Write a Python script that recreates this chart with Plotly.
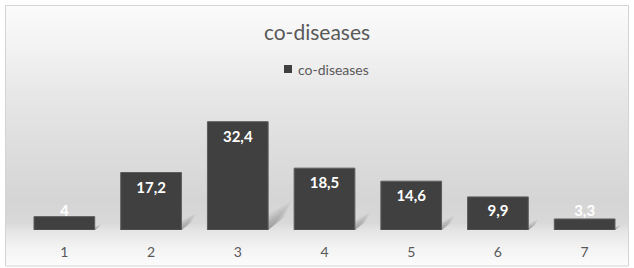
import plotly.graph_objects as go

categories = ["1", "2", "3", "4", "5", "6", "7"]
values = [4, 17.2, 32.4, 18.5, 14.6, 9.9, 3.3]
value_labels = ["4", "17,2", "32,4", "18,5", "14,6", "9,9", "3,3"]
series_name = "co-diseases"
title_text = "co-diseases"

W, H = 634, 268
L, R, T, B = 21, 6, 113, 38
PW, PH = W - L - R, H - T - B
YMAX = 35.0
FONT = "Lato"
BAR_COLOR = "#404040"
TEXT_COLOR = "#595959"

def px_x(px):
    return (px - L) / PW

def px_y(py):
    return (H - B - py) / PH

shapes = []
# background gradient (vertical) inside the chart frame
stops = [(6, 251), (50, 242), (95, 231), (150, 221), (200, 213), (222, 216),
         (232, 230), (248, 243), (266, 252)]

def gray_at(py):
    for (a, ga), (b, gb) in zip(stops, stops[1:]):
        if a <= py <= b:
            t = (py - a) / (b - a)
            return ga + (gb - ga) * t
    return stops[-1][1]

py = 6
while py < 266:
    g = int(round(gray_at(py + 1)))
    shapes.append(dict(type="rect", xref="paper", yref="paper", layer="below",
                       x0=px_x(6), x1=px_x(628), y0=px_y(py + 2), y1=px_y(py),
                       fillcolor=f"rgb({g},{g},{g})", line=dict(width=0)))
    py += 2

# frame
shapes.append(dict(type="rect", xref="paper", yref="paper", layer="below",
                   x0=px_x(5.5), x1=px_x(628.5), y0=px_y(266), y1=px_y(5.5),
                   fillcolor="rgba(0,0,0,0)", line=dict(color="#d4d4d4", width=1)))

# soft drop shadows to the lower right of each bar (derived from values)
bar_half = 0.35
ux = PW / 7.0
uy = PH / YMAX
for i, v in enumerate(values):
    xr = i + bar_half
    dx = (4 + 0.6 * v) / ux
    dy = (3 + 0.8 * v) / uy
    n = 10
    for k in range(n):
        s = 1 - k / (n + 1)
        shapes.append(dict(type="path", xref="x", yref="y", layer="below",
                           path=(f"M {xr},{0} L {xr + dx*s*0.7},{dy*s*0.45} "
                                 f"L {xr + dx*s},{dy*s} L {xr},{dy*0.55*s} Z"),
                           fillcolor="rgba(80,80,80,0.045)", line=dict(width=0)))

# custom legend (small square + text)
shapes.append(dict(type="rect", xref="paper", yref="paper",
                   x0=px_x(284), x1=px_x(292), y0=px_y(73), y1=px_y(65),
                   fillcolor=BAR_COLOR, line=dict(width=0)))

fig = go.Figure()
fig.add_trace(go.Bar(
    x=list(range(len(categories))), y=values, name=series_name,
    marker=dict(color=BAR_COLOR, line=dict(color="#5c5c5c", width=1)),
    width=0.7, showlegend=False, hoverinfo="skip",
))

label_y = [max(v - 4.9, 5.2) for v in values]
fig.add_trace(go.Scatter(
    x=list(range(len(categories))), y=label_y, mode="text", text=value_labels,
    textfont=dict(family=FONT, size=15, color="white", weight="bold"),
    textposition="middle center", showlegend=False, hoverinfo="skip",
))

fig.update_layout(
    width=W, height=H,
    margin=dict(l=L, r=R, t=T, b=B),
    paper_bgcolor="white", plot_bgcolor="rgba(0,0,0,0)",
    shapes=shapes,
    title=dict(text=title_text, x=317 / W, xref="container",
               y=1 - 33 / H, yref="container", xanchor="center", yanchor="middle",
               font=dict(family=FONT, size=21, color=TEXT_COLOR)),
    annotations=[dict(text=series_name, xref="paper", yref="paper",
                      x=px_x(296), y=px_y(69), xanchor="left", yanchor="middle",
                      showarrow=False,
                      font=dict(family=FONT, size=14, color=TEXT_COLOR))],
    showlegend=False,
    xaxis=dict(range=[-0.5, 6.5], tickmode="array",
               tickvals=list(range(len(categories))), ticktext=categories,
               showgrid=False, zeroline=False, showline=False, ticks="",
               ticklabelstandoff=12, fixedrange=True,
               tickfont=dict(family=FONT, size=14, color=TEXT_COLOR)),
    yaxis=dict(range=[0, YMAX], visible=False, showgrid=False, zeroline=False,
               fixedrange=True),
    bargap=0.3,
)

fig.write_html("out.html", config={"displayModeBar": False},
               post_script="document.body.style.margin='0';")
